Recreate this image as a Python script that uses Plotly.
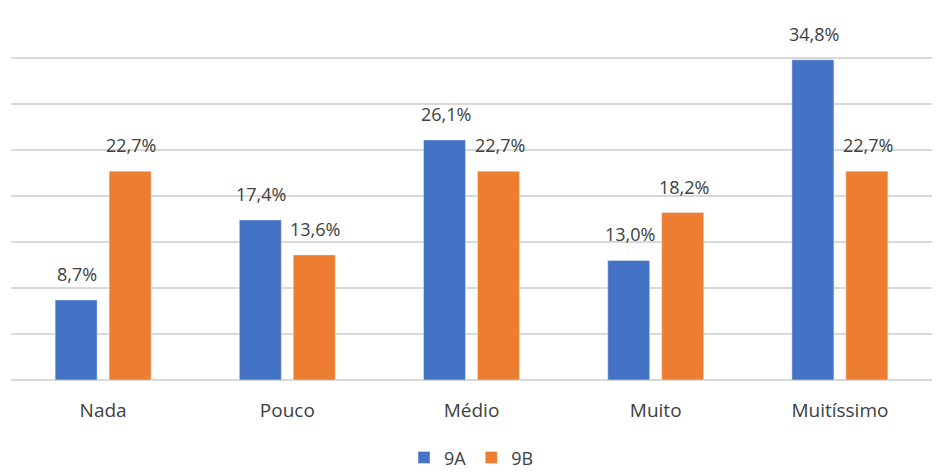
import plotly.graph_objects as go

categories = ["Nada", "Pouco", "Médio", "Muito", "Muitíssimo"]
series_9a = [8.7, 17.4, 26.1, 13.0, 34.8]
series_9b = [22.7, 13.6, 22.7, 18.2, 22.7]

def fmt(v):
    return f"{v:.1f}%".replace(".", ",")

font_family = "Open Sans, Liberation Sans, sans-serif"
txt_color = "#404040"

fig = go.Figure()
fig.add_trace(go.Bar(name="9A", x=categories, y=series_9a, marker=dict(color="#4472C4")))
fig.add_trace(go.Bar(name="9B", x=categories, y=series_9b, marker=dict(color="#ED7D31")))

for vals, shift in ((series_9a, -26), (series_9b, 28)):
    for c, v in zip(categories, vals):
        fig.add_annotation(x=c, y=v, text=fmt(v), showarrow=False,
                           xshift=shift, yshift=12, yanchor="bottom",
                           font=dict(size=18, color=txt_color, family=font_family))

fig.update_layout(
    width=939, height=472,
    margin=dict(l=11, r=7, t=12, b=92, autoexpand=False),
    paper_bgcolor="white", plot_bgcolor="white",
    barmode="group", bargap=0.414, bargroupgap=0.222,
    font=dict(family=font_family, color=txt_color, size=18),
    showlegend=True,
    legend=dict(orientation="h", x=0.5, xanchor="center", yref="container", y=0.03, yanchor="middle",
                font=dict(size=18, color=txt_color), traceorder="normal"),
)
fig.update_yaxes(range=[0, 40], dtick=5, showticklabels=False,
                 showgrid=True, gridcolor="#d9d9d9", gridwidth=1.5,
                 zeroline=True, zerolinecolor="#d9d9d9", zerolinewidth=1.5, automargin=False)
fig.update_xaxes(showgrid=False, ticks="outside", ticklen=13, tickcolor="rgba(0,0,0,0)",
                 tickfont=dict(size=19, color=txt_color, family=font_family),
                 showline=False, automargin=False)

fig.write_html("out.html")
